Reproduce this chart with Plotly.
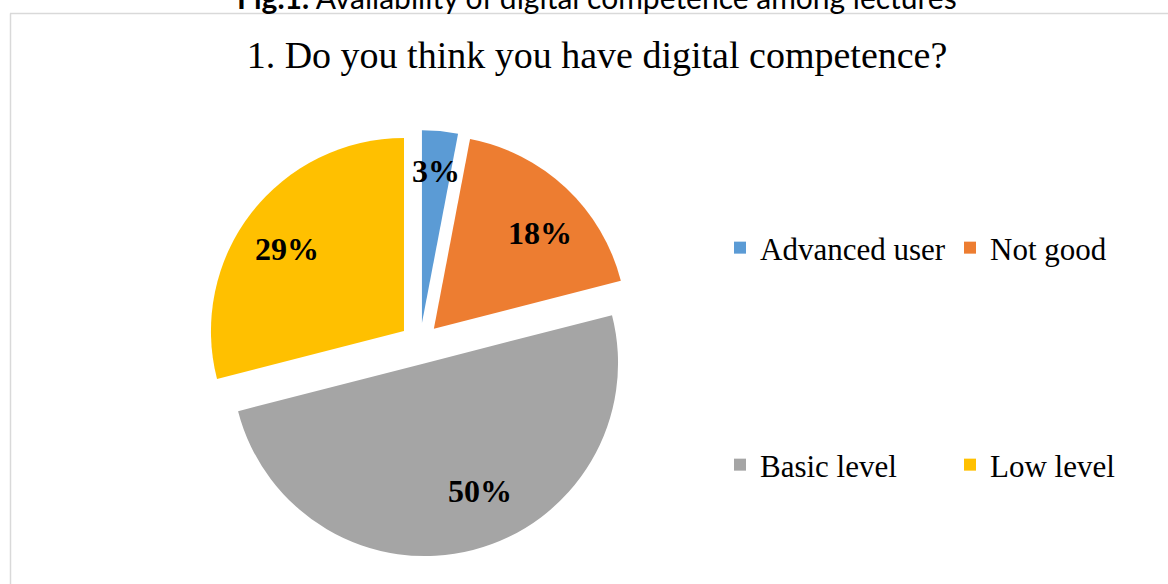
import math
import plotly.graph_objects as go

# Survey answers: "1. Do you think you have digital competence?"
labels = ["Advanced user", "Not good", "Basic level", "Low level"]
shares = [3, 18, 50, 29]
colors = ["#5B9BD5", "#ED7D31", "#A5A5A5", "#FFC000"]

W, H = 1168, 584
SERIF = "Liberation Serif, Times New Roman, serif"

# pie placement (paper fractions) and explosion
PULL = 0.105
CX, CY, HALF = 420.0, 343.5, 213.3
DOM_X = [(CX - HALF) / W, (CX + HALF) / W]
DOM_Y = [1 - (CY + HALF) / H, 1 - (CY - HALF) / H]

# data label placement, in slice order:
# (fraction of radius from pie centre, angular nudge in degrees)
LABEL_POS = [(0.90, 0.0), (0.845, 4.0), (0.825, -7.8), (0.845, -2.3)]

fig = go.Figure()

fig.add_trace(go.Pie(
    labels=labels,
    values=shares,
    marker=dict(colors=colors, line=dict(width=0)),
    sort=False,
    direction="clockwise",
    rotation=0,
    pull=[PULL] * len(shares),
    textinfo="none",
    hoverinfo="label+percent",
    showlegend=False,
    domain=dict(x=DOM_X, y=DOM_Y),
))

# legend entries: first pair on the upper row, second pair on the lower row
for i, (name, col) in enumerate(zip(labels, colors)):
    fig.add_trace(go.Scatter(
        x=[None], y=[None], mode="markers",
        marker=dict(symbol="square", size=12, color=col),
        name=name,
        legend="legend" if i < 2 else "legend2",
        showlegend=True,
        hoverinfo="skip",
    ))

# percentage labels computed from the slice geometry
cx = W * (DOM_X[0] + DOM_X[1]) / 2
cy = H * (1 - (DOM_Y[0] + DOM_Y[1]) / 2)
r = min(W * (DOM_X[1] - DOM_X[0]), H * (DOM_Y[1] - DOM_Y[0])) / 2 / (1 + PULL)
total = sum(shares)
start = 0.0
annotations = []
for v, (frac, nudge) in zip(shares, LABEL_POS):
    span = 360.0 * v / total
    theta = math.radians(start + span / 2 + nudge)
    start += span
    px = cx + frac * r * math.sin(theta)
    py = cy - frac * r * math.cos(theta)
    annotations.append(dict(
        x=px / W, y=1 - py / H, xref="paper", yref="paper",
        text=f"<b>{round(100 * v / total)}%</b>", showarrow=False,
        xanchor="center", yanchor="middle",
        font=dict(family=SERIF, size=32, color="black"),
    ))

# figure caption above the chart frame
annotations.append(dict(
    x=597 / W, y=1 - 17 / H, xref="paper", yref="paper",
    text="<b>Fig.1.</b> Availability of digital competence among lectures",
    showarrow=False, xanchor="center", yanchor="bottom",
    font=dict(family="Lato, Open Sans, sans-serif", size=30, color="black"),
))

legend_common = dict(
    orientation="h", xanchor="left", yanchor="middle",
    font=dict(family=SERIF, size=31, color="black"),
    bgcolor="rgba(0,0,0,0)", borderwidth=0,
    entrywidth=185, entrywidthmode="pixels",
    itemclick=False, itemdoubleclick=False,
)

fig.update_layout(
    width=W, height=H,
    margin=dict(l=0, r=0, t=0, b=0, autoexpand=False),
    paper_bgcolor="white", plot_bgcolor="white",
    xaxis=dict(visible=False, range=[0, 1]),
    yaxis=dict(visible=False, range=[0, 1]),
    title=dict(
        text="1. Do you think you have digital competence?",
        x=597 / W, xanchor="center", y=1 - 55 / H, yanchor="middle",
        font=dict(family=SERIF, size=38, color="black"),
    ),
    legend=dict(x=720 / W, y=1 - 248 / H, **legend_common),
    legend2=dict(x=720 / W, y=1 - 465 / H, **legend_common),
    annotations=annotations,
    shapes=[
        dict(type="line", xref="paper", yref="paper",
             x0=10 / W, x1=1, y0=1 - 13.5 / H, y1=1 - 13.5 / H,
             line=dict(color="#D9D9D9", width=1.5)),
        dict(type="line", xref="paper", yref="paper",
             x0=10.5 / W, x1=10.5 / W, y0=0, y1=1 - 13.5 / H,
             line=dict(color="#D9D9D9", width=1.5)),
    ],
)

fig.write_html("out.html")
